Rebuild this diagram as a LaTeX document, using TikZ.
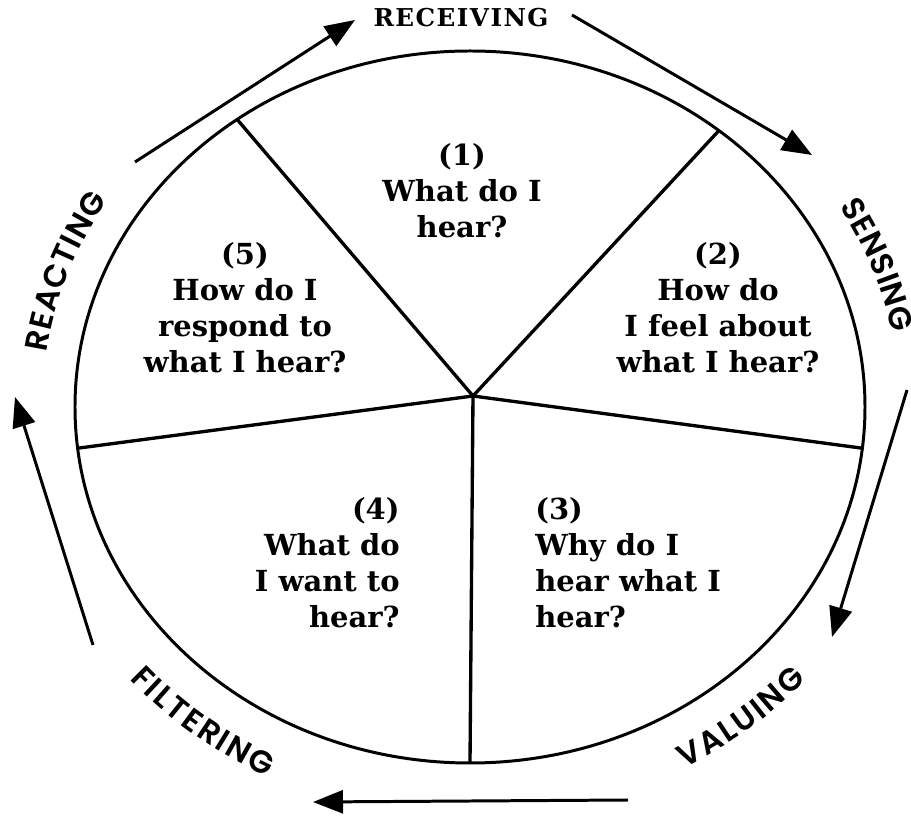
\documentclass[tikz,border=0pt]{standalone}
\usepackage{fontspec}
\newfontfamily\qfont{DejaVu Serif}
\newfontfamily\capsfont[LetterSpace=6]{DejaVu Serif}
\IfFontExistsTF{Poppins SemiBold}
  {\newfontfamily\ringfont{Poppins SemiBold}}
  {\newfontfamily\ringfont[UprightFont=*-Bold]{Poppins}}
\usetikzlibrary{arrows.meta,shapes.geometric,decorations.text}

\begin{document}
\begin{tikzpicture}[
  question/.style={font=\qfont\bfseries\fontsize{16.5}{20.5}\selectfont, align=center, inner sep=0pt},
  ring/.style={draw, ellipse, line width=1.7pt, inner sep=0pt, outer sep=0pt,
    minimum width=15.8cm, minimum height=14.24cm},
  spoke/.style={line width=1.9pt},
  flow/.style={-{Triangle[length=6mm, width=4.6mm]}, line width=1.7pt},
  stagetext/.style={decorate, decoration={text along path, text align={fit to path},
    text={|\ringfont\fontsize{18}{18}\selectfont|#1}}}
]
  \useasboundingbox (-9.4,-8.18) rectangle (8.82,8.14);

  \node[ring] (wheel) at (0,0) {};
  \coordinate (hub) at (0.06,0.22);
  \draw[spoke] (hub) -- (wheel.129.7);
  \draw[spoke] (hub) -- (wheel.48.7);
  \draw[spoke] (hub) -- (wheel.186.1);
  \draw[spoke] (hub) -- (wheel.354.5);
  \draw[spoke] (hub) -- (wheel.270);

  \node[question] (q1) at (-0.16,4.32) {(1)\\What do I\\hear?};
  \node[question] (q2) at (4.96,1.98) {(2)\\How do\\I feel about\\what I hear?};
  \node[question, align=left, anchor=west] (q3) at (1.3,-3.12) {(3)\\Why do I\\hear what I\\hear?};
  \node[question, align=right, anchor=east] (q4) at (-1.4,-3.12) {(4)\\What do\\I want to\\hear?};
  \node[question] (q5) at (-4.5,1.98) {(5)\\How do I\\respond to\\what I hear?};

  \node[font=\capsfont\bfseries\fontsize{14}{14}\selectfont] (receiving) at (-0.18,7.78) {RECEIVING};
  \path[stagetext=SENSING] (30.8:8.6 and 7.82) arc[start angle=30.8, end angle=10.9, x radius=8.6, y radius=7.82];
  \path[stagetext=VALUING] (-61.5:9.0 and 8.22) arc[start angle=-61.5, end angle=-41.6, x radius=9.0, y radius=8.22];
  \path[stagetext=FILTERING] (221.2:9.05 and 8.27) arc[start angle=221.2, end angle=243.4, x radius=9.05, y radius=8.27];
  \path[stagetext=REACTING] (171.9:8.55 and 7.77) arc[start angle=171.9, end angle=147.8, x radius=8.55, y radius=7.77];

  \coordinate (r0) at (-6.7,4.9);   \coordinate (r1) at (-2.3,7.74);
  \coordinate (s0) at (2.04,7.84);  \coordinate (s1) at (6.84,5.04);
  \coordinate (v0) at (8.74,0.34);  \coordinate (v1) at (7.24,-4.6);
  \coordinate (f0) at (3.16,-7.86); \coordinate (f1) at (-3.14,-7.9);
  \coordinate (a0) at (-7.54,-4.76); \coordinate (a1) at (-9.1,0.2);
  \draw[flow] (r0) -- (r1);
  \draw[flow] (s0) -- (s1);
  \draw[flow] (v0) -- (v1);
  \draw[flow] (f0) -- (f1);
  \draw[flow] (a0) -- (a1);
\end{tikzpicture}
\end{document}
